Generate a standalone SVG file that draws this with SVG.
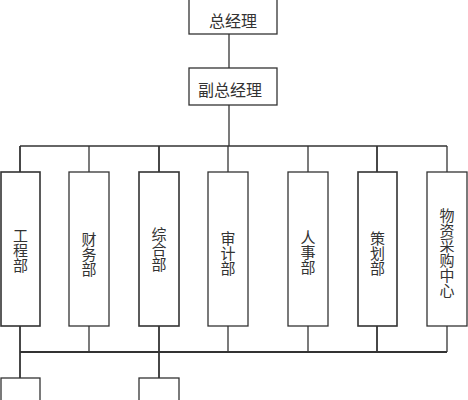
<svg xmlns="http://www.w3.org/2000/svg" width="468" height="400" viewBox="0 0 468 400">
<style>
.box{fill:#fff;stroke:#333;stroke-width:1.3}
.ln{stroke:#333;stroke-width:1.3;fill:none}
.t{font-family:"Liberation Serif","Noto Sans CJK SC",serif;font-size:15px;fill:#333;text-anchor:middle}
.h{font-size:16px}
</style>
<rect width="468" height="400" fill="#fff"/>
<g id="connectors">
<line class="ln" x1="229" y1="34" x2="229" y2="68"/>
<line class="ln" x1="229" y1="105" x2="229" y2="146"/>
<line class="ln" x1="20" y1="146" x2="447" y2="146" style="stroke-width:1.6"/>
<line class="ln" x1="20" y1="146" x2="20" y2="172" style="stroke-width:1.8"/>
<line class="ln" x1="89" y1="146" x2="89" y2="172"/>
<line class="ln" x1="159" y1="146" x2="159" y2="172" style="stroke-width:1.8"/>
<line class="ln" x1="228" y1="146" x2="228" y2="172"/>
<line class="ln" x1="308" y1="146" x2="308" y2="172"/>
<line class="ln" x1="377" y1="146" x2="377" y2="172" style="stroke-width:1.8"/>
<line class="ln" x1="447" y1="146" x2="447" y2="172"/>
<line class="ln" x1="20" y1="326" x2="20" y2="378" style="stroke-width:1.8"/>
<line class="ln" x1="89" y1="326" x2="89" y2="352"/>
<line class="ln" x1="159" y1="326" x2="159" y2="378" style="stroke-width:1.8"/>
<line class="ln" x1="228" y1="326" x2="228" y2="352"/>
<line class="ln" x1="308" y1="326" x2="308" y2="352"/>
<line class="ln" x1="377" y1="326" x2="377" y2="352" style="stroke-width:1.8"/>
<line class="ln" x1="447" y1="326" x2="447" y2="352"/>
<line class="ln" x1="20" y1="352" x2="447" y2="352" style="stroke-width:1.8"/>
</g>
<g id="gm"><rect class="box" x="189" y="-1" width="88" height="35"/><text class="t h" x="233" y="27">总经理</text></g>
<g id="vgm"><rect class="box" x="189" y="68" width="88" height="37"/><text class="t h" x="230" y="96">副总经理</text></g>
<g id="eng"><rect class="box" x="1" y="172" width="39" height="154" style="stroke-width:1.6"/><text class="t" x="20.5" y="241"><tspan x="20.5">工</tspan><tspan x="20.5" dy="15">程</tspan><tspan x="20.5" dy="15">部</tspan></text></g>
<g id="fin"><rect class="box" x="69" y="172" width="40" height="154"/><text class="t" x="89" y="245"><tspan x="89">财</tspan><tspan x="89" dy="15">务</tspan><tspan x="89" dy="15">部</tspan></text></g>
<g id="gen"><rect class="box" x="139" y="172" width="40" height="154" style="stroke-width:1.6"/><text class="t" x="159" y="240"><tspan x="159">综</tspan><tspan x="159" dy="15">合</tspan><tspan x="159" dy="15">部</tspan></text></g>
<g id="aud"><rect class="box" x="208" y="172" width="40" height="154"/><text class="t" x="228" y="244"><tspan x="228">审</tspan><tspan x="228" dy="15">计</tspan><tspan x="228" dy="15">部</tspan></text></g>
<g id="hr"><rect class="box" x="288" y="172" width="40" height="154"/><text class="t" x="308" y="243"><tspan x="308">人</tspan><tspan x="308" dy="15">事</tspan><tspan x="308" dy="15">部</tspan></text></g>
<g id="plan"><rect class="box" x="358" y="172" width="39" height="154" style="stroke-width:1.6"/><text class="t" x="377.5" y="244"><tspan x="377.5">策</tspan><tspan x="377.5" dy="15">划</tspan><tspan x="377.5" dy="15">部</tspan></text></g>
<g id="purch"><rect class="box" x="427" y="172" width="40" height="154"/><text class="t" x="447" y="221"><tspan x="447">物</tspan><tspan x="447" dy="15">资</tspan><tspan x="447" dy="15">采</tspan><tspan x="447" dy="15">购</tspan><tspan x="447" dy="15">中</tspan><tspan x="447" dy="15">心</tspan></text></g>
<g id="sub1"><rect class="box" x="1" y="378" width="39" height="40"/></g>
<g id="sub2"><rect class="box" x="139" y="378" width="40" height="40"/></g>
</svg>
